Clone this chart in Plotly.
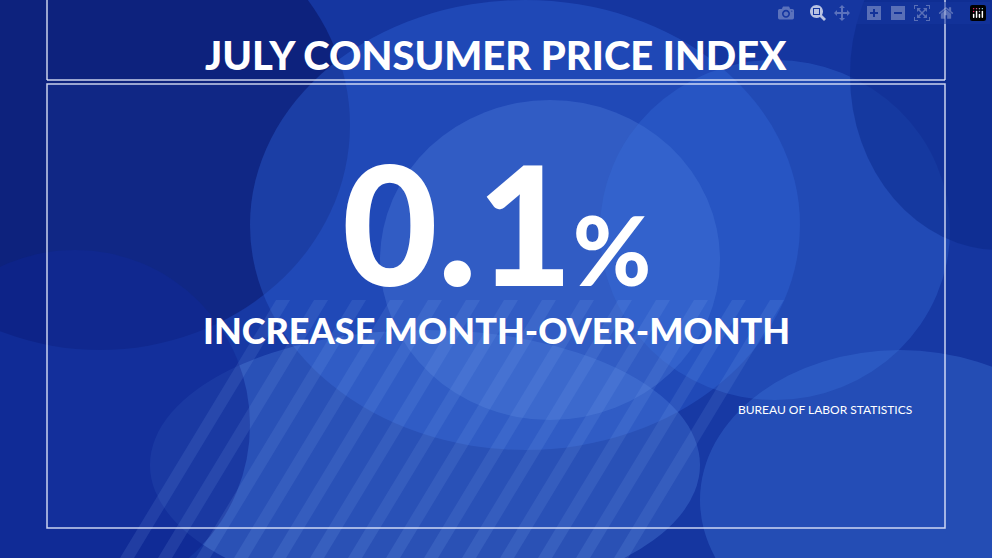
import plotly.graph_objects as go

title = "JULY CONSUMER PRICE INDEX"
value = 0.1
value_unit = "%"
subtitle = "INCREASE MONTH-OVER-MONTH"
source = "BUREAU OF LABOR STATISTICS"

W, H = 992, 558
def px(x): return x / W
def py(y): return 1 - y / H

fig = go.Figure()
shapes = []
blobs = [
    (-150, -100, 350, 350, "#0a1a6e", 0.7),
    (250, 0, 800, 450, "#2f63d6", 0.4),
    (380, 100, 720, 420, "#6fa0f0", 0.25),
    (600, 60, 950, 400, "#3c78e0", 0.3),
    (150, 330, 700, 600, "#5d92e8", 0.3),
    (700, 350, 1100, 650, "#4a86e4", 0.3),
    (-100, 250, 250, 600, "#0d2590", 0.6),
    (850, -100, 1150, 250, "#0b2a8a", 0.6),
]
for x0, y0, x1, y1, c, o in blobs:
    shapes.append(dict(type="circle", xref="paper", yref="paper",
                       x0=px(x0), x1=px(x1), y0=py(y1), y1=py(y0),
                       fillcolor=c, opacity=o, line_width=0, layer="below"))
for i in range(14):
    x0 = 120 + i * 38
    shapes.append(dict(type="path", xref="paper", yref="paper",
                       path=f"M {px(x0)} {py(558)} L {px(x0+14)} {py(558)} L {px(x0+170)} {py(300)} L {px(x0+156)} {py(300)} Z",
                       fillcolor="#9cc3ff", opacity=0.12, line_width=0, layer="below"))
line = dict(color="rgba(235,240,255,0.85)", width=1.5)
shapes += [
    dict(type="line", xref="paper", yref="paper", x0=px(47), x1=px(47), y0=py(0), y1=py(80), line=line),
    dict(type="line", xref="paper", yref="paper", x0=px(945), x1=px(945), y0=py(0), y1=py(80), line=line),
    dict(type="line", xref="paper", yref="paper", x0=px(47), x1=px(945), y0=py(80), y1=py(80), line=line),
    dict(type="rect", xref="paper", yref="paper", x0=px(47), x1=px(945), y0=py(528), y1=py(84),
         line=line, fillcolor="rgba(40,80,200,0.12)"),
]

font = "Lato"
ann = [
    dict(text=title, x=px(496), y=py(55), font=dict(size=40, color="white", family=font, weight=900)),
    dict(text=f"<span style='font-size:165px'>{value}</span><span style='font-size:95px'>{value_unit}</span>",
         x=px(496), y=py(222), font=dict(color="white", family=font, weight=900)),
    dict(text=subtitle, x=px(496), y=py(330), font=dict(size=36, color="white", family=font, weight=900)),
    dict(text=source, x=px(825), y=py(409), font=dict(size=12, color="white", family=font)),
]
for a in ann:
    a.update(xref="paper", yref="paper", showarrow=False, xanchor="center", yanchor="middle")

fig.update_layout(width=W, height=H, margin=dict(l=0, r=0, t=0, b=0),
                  paper_bgcolor="#1536a0", plot_bgcolor="rgba(0,0,0,0)",
                  xaxis=dict(visible=False), yaxis=dict(visible=False),
                  shapes=shapes, annotations=ann, showlegend=False)
fig.write_html("out.html", post_script="document.body.style.margin='0';")
